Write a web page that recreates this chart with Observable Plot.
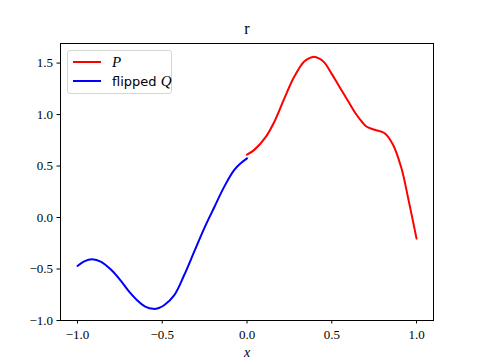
<!DOCTYPE html>
<html>
<head>
<meta charset="utf-8">
<script src="https://cdn.jsdelivr.net/npm/d3@7"></script>
<script src="https://cdn.jsdelivr.net/npm/@observablehq/plot@0.6"></script>
<style>
  body { margin: 0; background: #fff; }
  #wrap { position: relative; width: 480px; height: 360px; }
  #legend { position: absolute; left: 67px; top: 50px; width: 103px; height: 42px;
    border: 1px solid #d5d5d5; border-radius: 3px; background: rgba(255,255,255,0.85);
    font-family: "DejaVu Sans", sans-serif; font-size: 13px; white-space: nowrap; }
  .row { position: absolute; left: 5px; height: 18px; display: flex; align-items: center; white-space: nowrap; }
  .sw { width: 28px; height: 2px; margin-right: 11px; }
  .m { font-family: "Liberation Serif", serif; font-style: italic; font-size: 15px; }
</style>
</head>
<body>
<div id="wrap"></div>
<script>
const title = "r";
const xLabel = "x";
const seriesNames = ["P", "flipped Q"];
const seriesColors = ["#ff0000", "#0000ff"];
const xTicks = [-1, -0.5, 0, 0.5, 1];
const yTicks = [-1, -0.5, 0, 0.5, 1, 1.5];

const pX = [0, 0.043, 0.112, 0.162, 0.221, 0.28, 0.339, 0.389, 0.43, 0.457, 0.50, 0.546, 0.596, 0.645, 0.68, 0.704, 0.753, 0.812, 0.862, 0.911, 0.951, 1.0];
const pY = [0.61, 0.657, 0.786, 0.933, 1.16, 1.371, 1.517, 1.56, 1.54, 1.505, 1.395, 1.268, 1.132, 1.0, 0.925, 0.884, 0.852, 0.819, 0.705, 0.478, 0.185, -0.205];

const qX = [-1, -0.96, -0.913, -0.86, -0.80, -0.746, -0.70, -0.65, -0.60, -0.552, -0.52, -0.489, -0.43, -0.371, -0.312, -0.253, -0.193, -0.134, -0.075, -0.035, 0];
const qY = [-0.47, -0.425, -0.405, -0.43, -0.51, -0.61, -0.71, -0.80, -0.865, -0.887, -0.878, -0.852, -0.756, -0.561, -0.334, -0.107, 0.10, 0.30, 0.462, 0.53, 0.575];

const pData = pX.map((x, i) => ({x, y: pY[i]}));
const qData = qX.map((x, i) => ({x, y: qY[i]}));

const fmt = d => d.toFixed(1).replace("-", "\u2212");

const chart = Plot.plot({
  width: 480, height: 360,
  marginLeft: 60, marginRight: 47, marginTop: 43, marginBottom: 40,
  style: { fontFamily: "'Liberation Serif', serif", fontSize: "13px", background: "white", color: "black" },
  x: { domain: [-1.1, 1.1] },
  y: { domain: [-1, 1.69] },
  marks: [
    Plot.axisX({ ticks: xTicks, tickFormat: fmt, tickSize: 3.5, tickPadding: 6, label: null, fontSize: 13 }),
    Plot.axisY({ ticks: yTicks, tickFormat: fmt, tickSize: 3.5, tickPadding: 4, label: null, fontSize: 13 }),
    Plot.line(qData, { x: "x", y: "y", stroke: seriesColors[1], strokeWidth: 2, curve: "catmull-rom" }),
    Plot.line(pData, { x: "x", y: "y", stroke: seriesColors[0], strokeWidth: 2, curve: "catmull-rom" }),
    Plot.frame({ stroke: "black", strokeWidth: 1 }),
    Plot.text([title], { frameAnchor: "top", dy: -21, fontSize: 16, text: d => d }),
    Plot.text([xLabel], { frameAnchor: "bottom", dy: 36, fontSize: 14, fontStyle: "italic", text: d => d })
  ]
});

const wrap = document.getElementById("wrap");
wrap.appendChild(chart);

const legend = document.createElement("div");
legend.id = "legend";
seriesNames.forEach((name, i) => {
  const row = document.createElement("div");
  row.className = "row";
  row.style.top = (2 + i * 19) + "px";
  const sw = document.createElement("div");
  sw.className = "sw";
  sw.style.background = seriesColors[i];
  row.appendChild(sw);
  const lab = document.createElement("span");
  if (name === "P") {
    lab.innerHTML = '<span class="m">P</span>';
  } else {
    lab.innerHTML = 'flipped <span class="m">Q</span>';
  }
  row.appendChild(lab);
  legend.appendChild(row);
});
wrap.appendChild(legend);
</script>
</body>
</html>
